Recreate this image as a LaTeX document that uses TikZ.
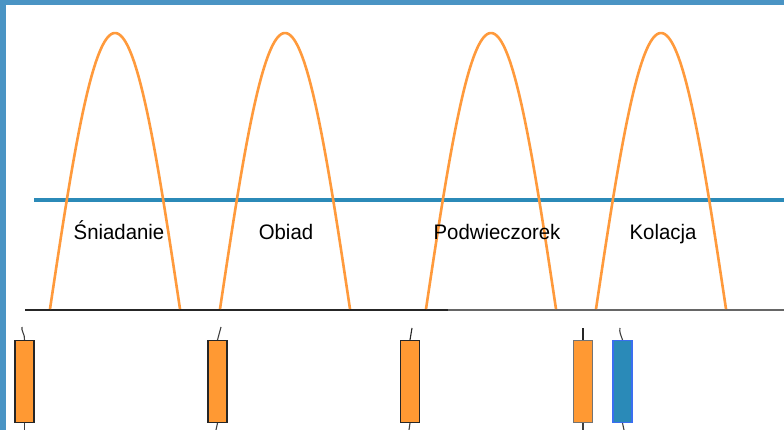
\documentclass[tikz,border=0pt]{standalone}
\usepackage{fontspec}
\setmainfont{Liberation Sans}
\definecolor{frameblue}{HTML}{4A94C4}
\definecolor{levelblue}{HTML}{2B8AB8}
\definecolor{archorange}{HTML}{FF9A3C}
\definecolor{candleorange}{HTML}{FF9933}
\definecolor{candleblue}{HTML}{2A8AB8}
\definecolor{edgeblue}{HTML}{3A6EF0}
\begin{document}
\begin{tikzpicture}[x=1pt,y=-1pt,
  arch/.style={draw=archorange,line width=2.6pt},
  meal/.style={font=\fontsize{21}{24}\selectfont,inner sep=0pt,anchor=base,xscale=0.97},
  candle/.style={rectangle,minimum width=19pt,minimum height=82pt,inner sep=0pt,line width=1.1pt},
  wick/.style={line width=1.1pt}]
  \useasboundingbox (0,0) rectangle (784,430);
  \fill[white] (0,0) rectangle (784,430);
  % frame bands on the top and left edges
  \fill[frameblue] (0,0) rectangle (784,5.5);
  \fill[frameblue] (0,0) rectangle (5.5,430);

  % time axis
  \coordinate (axA) at (25,310);
  \coordinate (axB) at (448,310);
  \coordinate (axC) at (784,310);
  \draw[line width=1.6pt,black!85] (axA) -- (axB);
  \draw[line width=2pt,black!60] (axB) -- (axC);

  % glucose level line
  \coordinate (lvA) at (34,200);
  \coordinate (lvB) at (784,200);
  \draw[levelblue,line width=4.5pt] (lvA) -- (lvB);

  % meal arches
  \foreach \c in {115,285,491,661}{
    \draw[arch] plot[domain=-65:65,samples=80,smooth] ({\c+\x},{309-276*cos(\x/65*90)});
  }

  % meal labels
  \node[meal] (m1) at (119,239.5) {Śniadanie};
  \node[meal] (m2) at (286,239.5) {Obiad};
  \node[meal] (m3) at (497,239.5) {Podwieczorek};
  \node[meal] (m4) at (663,239.5) {Kolacja};

  % candles
  \node[candle,draw=black!85,fill=candleorange] (c1) at (24.5,381.5) {};
  \node[candle,draw=black!85,fill=candleorange] (c2) at (217.5,381.5) {};
  \node[candle,draw=black!85,fill=candleorange] (c3) at (410,381.5) {};
  \node[candle,draw=black!55,fill=candleorange] (c4) at (583,381.5) {};
  \node[candle,draw=edgeblue,fill=candleblue] (c5) at (622.5,381.5) {};

  % wicks
  \coordinate (t1) at (22,327);
  \coordinate (t2) at (221,327);
  \coordinate (t3) at (412,328);
  \coordinate (t4) at (583,328);
  \coordinate (t5) at (620,328);
  \draw[wick,black!75] (c1.north) .. controls (25,334) and (21,331) .. (t1);
  \draw[wick,black!75] (c2.north) -- (t2);
  \draw[wick,black!85] (c3.north) -- (t3);
  \draw[wick,black!85] (c4.north) -- (t4);
  \draw[wick,black!75] (c5.north) .. controls (621,335) and (619,332) .. (t5);
  \coordinate (b1) at (24.5,430);
  \coordinate (b2) at (216,430);
  \coordinate (b3) at (409,430);
  \coordinate (b4) at (583,430);
  \coordinate (b5) at (624,430);
  \draw[wick,black!75] (c1.south) -- (b1);
  \draw[wick,black!75] (c2.south) -- (b2);
  \draw[wick,black!75] (c3.south) -- (b3);
  \draw[wick,black!75] (c4.south) -- (b4);
  \draw[wick,black!75] (c5.south) -- (b5);
\end{tikzpicture}
\end{document}
